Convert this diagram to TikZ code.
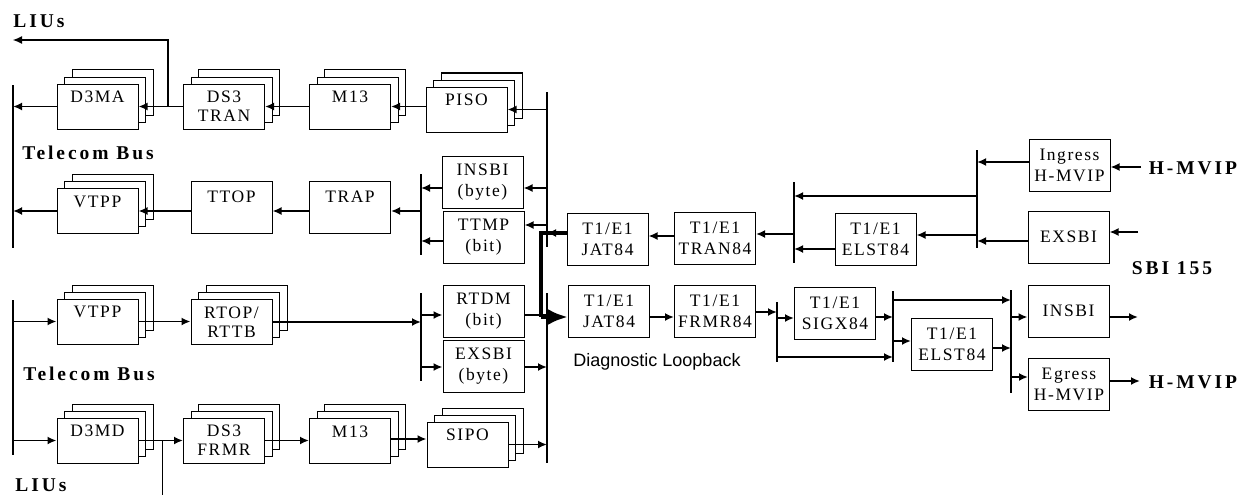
\documentclass[tikz,border=0pt]{standalone}
\usepackage{fontspec}
\setmainfont{Liberation Serif}
\newfontfamily\bxf[LetterSpace=9]{Liberation Serif}
\newfontfamily\lbf[LetterSpace=15]{Liberation Serif}
\newfontfamily\sansf{Liberation Sans}
\usetikzlibrary{arrows.meta,shadows,calc}
\begin{document}
\begin{tikzpicture}[x=1pt,y=-1pt,
  box/.style={draw,line width=1pt,fill=white,minimum width=81pt,minimum height=52pt,inner sep=0pt,align=center,font=\bxf\fontsize{17.5}{21}\selectfont},
  sbox/.style={box,minimum height=45pt,font=\bxf\fontsize{17.5}{19}\selectfont,
    copy shadow={shadow xshift=15pt,shadow yshift=14pt},
    copy shadow={shadow xshift=7.5pt,shadow yshift=7pt}},
  con/.style={line width=1.9pt,-{Latex[length=9pt,width=8pt]}},
  ln/.style={line width=1.9pt},
  bus/.style={line width=2.5pt},
  thinln/.style={line width=1pt},
  thinarr/.style={line width=1.1pt,-{Latex[length=9pt,width=8pt]}},
  lab/.style={font=\lbf\bfseries\fontsize{19.5}{22}\selectfont,inner sep=0pt}
]
\useasboundingbox (0,0) rectangle (1239,495);

% stacked blocks
\node[sbox] (D3MA) at (97.5,106.5) {D3MA\\\mbox{}};
\node[sbox] (DS3T) at (224,106.5) {DS3\\TRAN};
\node[sbox] (M13t) at (350,106.5) {M13\\\mbox{}};
\node[sbox] (PISO) at (466.5,109.5) {PISO\\\mbox{}};
\node[sbox] (VTPPt) at (97.5,211) {VTPP\\\mbox{}};
\node[sbox] (VTPPb) at (97.5,321.5) {VTPP\\\mbox{}};
\node[sbox] (RTOP) at (231.5,322) {RTOP/\\RTTB};
\node[sbox] (D3MD) at (97.5,440.5) {D3MD\\\mbox{}};
\node[sbox] (DS3F) at (224,440.5) {DS3\\FRMR};
\node[sbox] (M13b) at (350,441) {M13\\\mbox{}};
\node[sbox] (SIPO) at (467.5,444.5) {SIPO\\\mbox{}};

% single blocks
\node[box] (TTOP) at (231.5,207.5) {TTOP\\\mbox{}};
\node[box] (TRAP) at (350,207) {TRAP\\\mbox{}};
\node[box] (INSBIb) at (482.5,182.5) {INSBI\\(byte)};
\node[box] (TTMP) at (483.5,237) {TTMP\\(bit)};
\node[box] (RTDM) at (483.5,311) {RTDM\\(bit)};
\node[box] (EXSBIb) at (483.5,366) {EXSBI\\(byte)};
\node[box] (JATa) at (607.5,239) {T1/E1\\JAT84};
\node[box] (TRAN84) at (715,238) {T1/E1\\TRAN84};
\node[box] (ELSTa) at (875.5,239) {T1/E1\\ELST84};
\node[box] (ING) at (1069.5,165) {Ingress\\H-MVIP};
\node[box] (EXSBIr) at (1068.5,237) {EXSBI};
\node[box] (JATb) at (609,311) {T1/E1\\JAT84};
\node[box] (FRMR84) at (715,311.5) {T1/E1\\FRMR84};
\node[box] (SIGX) at (835,313) {T1/E1\\SIGX84};
\node[box] (ELSTb) at (952,344) {T1/E1\\ELST84};
\node[box] (INSBIr) at (1068.5,311) {INSBI};
\node[box] (EGR) at (1069,384) {Egress\\H-MVIP};

% bus lines
\coordinate (bL1a) at (13,85);   \coordinate (bL1b) at (13,248);
\coordinate (bL2a) at (13,300);  \coordinate (bL2b) at (13,455);
\coordinate (bR1a) at (547,92);  \coordinate (bR1b) at (547,247);
\coordinate (bR2a) at (547,293); \coordinate (bR2b) at (547,463);
\coordinate (v1a) at (421,174);  \coordinate (v1b) at (421,255);
\coordinate (v2a) at (421,293);  \coordinate (v2b) at (421,381);
\coordinate (v3a) at (794,182);  \coordinate (v3b) at (794,263);
\coordinate (v4a) at (977,150);  \coordinate (v4b) at (977,248);
\coordinate (v5a) at (777,302);  \coordinate (v5b) at (777,362);
\coordinate (v6a) at (893,291);  \coordinate (v6b) at (893,362);
\coordinate (v7a) at (1011,290); \coordinate (v7b) at (1011,393);
\foreach \a/\b in {bL1a/bL1b,bL2a/bL2b,bR1a/bR1b,bR2a/bR2b,v1a/v1b,v2a/v2b,v3a/v3b,v4a/v4b,v5a/v5b,v6a/v6b,v7a/v7b}
  \draw[bus] (\a) -- (\b);

% row 1
\draw[con] (D3MA.west) -- (D3MA.west -| bL1a);
\draw[con] (DS3T.west) -- (D3MA.east);
\draw[con] (M13t.west) -- (DS3T.east);
\draw[con] (PISO.west |- M13t.east) -- (M13t.east);
\draw[con] (PISO.east -| bR1a) -- (PISO.east);
\coordinate (liuA) at (168,106.5); \coordinate (liuB) at (13,40);
\draw[thinarr] (liuA) |- (liuB);

% row 2
\draw[con] ($(INSBIb.east -| bR1a)+(0,5.5)$) -- ($(INSBIb.east)+(0,5.5)$);
\draw[con] ($(TTMP.east -| bR1a)+(0,-12)$) -- ($(TTMP.east)+(0,-12)$);
\draw[con] ($(INSBIb.west)+(0,5.5)$) -- ($(INSBIb.west -| v1a)+(0,5.5)$);
\draw[con] ($(TTMP.west)+(0,4)$) -- ($(TTMP.west -| v1a)+(0,4)$);
\draw[con] ($(TRAP.east -| v1a)+(0,4)$) -- ($(TRAP.east)+(0,4)$);
\draw[con] ($(TRAP.west)+(0,4)$) -- ($(TTOP.east)+(0,3.5)$);
\draw[con] ($(TTOP.west)+(0,3.5)$) -- (VTPPt.east);
\draw[con] (VTPPt.west) -- (VTPPt.west -| bL1a);

% row 3
\draw[con] (VTPPb.west -| bL2a) -- (VTPPb.west);
\draw[con] (VTPPb.east) -- (VTPPb.east -| RTOP.west);
\draw[con] (RTOP.east) -- (RTOP.east -| v2a);
\draw[con] ($(RTDM.west -| v2a)+(0,4)$) -- ($(RTDM.west)+(0,4)$);
\draw[con] ($(EXSBIb.west -| v2a)+(0,1)$) -- ($(EXSBIb.west)+(0,1)$);
\draw[con] ($(EXSBIb.east)+(0,1)$) -- ($(EXSBIb.east -| bR2a)+(0,1)$);
\draw[ln] ($(RTDM.east)+(0,4)$) -- ($(RTDM.east -| bR2a)+(0,4)$);

% row 4
\draw[con] (D3MD.west -| bL2a) -- (D3MD.west);
\draw[con] (D3MD.east) -- (DS3F.west);
\coordinate (liu2a) at (162,440.5); \coordinate (liu2b) at (162,495);
\draw[thinln] (liu2a) -- (liu2b);
\draw[con] (DS3F.east) -- (DS3F.east -| M13b.west);
\draw[con] ($(M13b.east)+(0,-2)$) -- ($(M13b.east -| SIPO.west)+(0,-2)$);
\draw[con] (SIPO.east) -- (SIPO.east -| bR2a);

% diagnostic loopback
\coordinate (lbT) at (541,233); \coordinate (lbB) at (541,317);
\draw[line width=4.5pt] (JATa.west |- lbT) -- (lbT) -- (lbB);
\draw[con] (JATa.west |- lbT) -- (lbT -| bR1a);
\draw[line width=4.5pt,-{Latex[length=20pt,width=16pt]}] (lbB) -- (JATb.west |- lbB);

% upper right chain
\draw[con] ($(TRAN84.west)+(0,-2)$) -- ($(JATa.east)+(0,-3)$);
\draw[con] ($(TRAN84.east -| v3a)+(0,-4)$) -- ($(TRAN84.east)+(0,-4)$);
\coordinate (h196) at (977,196);
\draw[con] (h196) -- (h196 -| v3a);
\draw[con] ($(ELSTa.west)+(0,10)$) -- ($(ELSTa.west -| v3a)+(0,10)$);
\draw[con] ($(ELSTa.east -| v4a)+(0,-4)$) -- ($(ELSTa.east)+(0,-4)$);
\draw[con] ($(ING.west)+(0,-3)$) -- ($(ING.west -| v4a)+(0,-3)$);
\draw[con] ($(EXSBIr.west)+(0,4)$) -- ($(EXSBIr.west -| v4a)+(0,4)$);
\coordinate (sbiIn) at (1138,232);
\draw[con] (sbiIn) -- (sbiIn -| EXSBIr.east);
\coordinate (hmIn) at (1141,167);
\draw[con] (hmIn) -- (hmIn -| ING.east);

% lower right chain
\draw[con] ($(JATb.east)+(0,6)$) -- ($(JATb.east -| FRMR84.west)+(0,6)$);
\draw[con] ($(FRMR84.east)+(0,0.5)$) -- ($(FRMR84.east -| v5a)+(0,0.5)$);
\draw[con] ($(SIGX.west -| v5a)+(0,5)$) -- ($(SIGX.west)+(0,5)$);
\coordinate (h357) at (777,357);
\draw[con] (h357) -- (h357 -| v6a);
\draw[con] ($(SIGX.east)+(0,4)$) -- ($(SIGX.east -| v6a)+(0,4)$);
\coordinate (h300) at (893,300);
\draw[con] (h300) -- (h300 -| v7a);
\draw[con] ($(ELSTb.west -| v6a)+(0,-3)$) -- ($(ELSTb.west)+(0,-3)$);
\draw[con] ($(ELSTb.east)+(0,4)$) -- ($(ELSTb.east -| v7a)+(0,4)$);
\draw[con] ($(INSBIr.west -| v7a)+(0,6)$) -- ($(INSBIr.west)+(0,6)$);
\draw[con] ($(EGR.west -| v7a)+(0,-7)$) -- ($(EGR.west)+(0,-7)$);
\coordinate (insOut) at (1138,317);
\draw[con] ($(INSBIr.east)+(0,6)$) -- (insOut);
\coordinate (egOut) at (1140,381);
\draw[con] ($(EGR.east)+(0,-3)$) -- (egOut);

% labels
\node[lab] (liuT) at (39,21) {LIUs};
\node[lab] (tb1) at (88,153) {Telecom Bus};
\node[lab] (tb2) at (89,374) {Telecom Bus};
\node[lab] (liuBt) at (41,485) {LIUs};
\node[lab] (hm1) at (1193,168) {H-MVIP};
\node[lab] (hm2) at (1193,382) {H-MVIP};
\node[lab] (sbi) at (1172,268) {SBI 155};
\node[font=\sansf\fontsize{18}{20}\selectfont,inner sep=0pt] (diag) at (657,362) {Diagnostic Loopback};
\end{tikzpicture}
\end{document}
